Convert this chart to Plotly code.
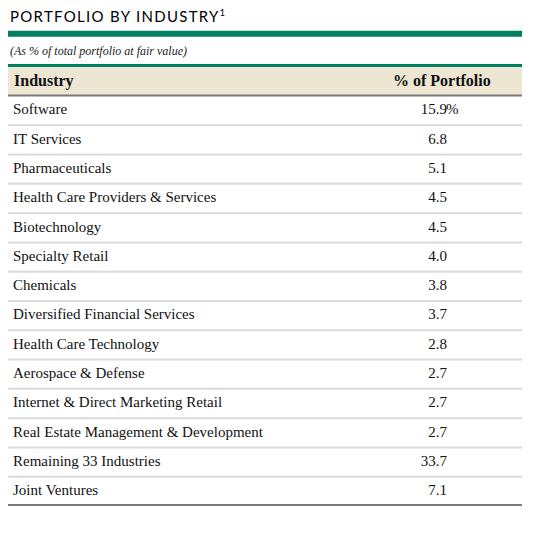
import plotly.graph_objects as go

industries = [
    "Software", "IT Services", "Pharmaceuticals", "Health Care Providers & Services",
    "Biotechnology", "Specialty Retail", "Chemicals", "Diversified Financial Services",
    "Health Care Technology", "Aerospace & Defense", "Internet & Direct Marketing Retail",
    "Real Estate Management & Development", "Remaining 33 Industries", "Joint Ventures",
]
pct_portfolio = [15.9, 6.8, 5.1, 4.5, 4.5, 4.0, 3.8, 3.7, 2.8, 2.7, 2.7, 2.7, 33.7, 7.1]
col_headers = ["Industry", "% of Portfolio"]
title_text = "PORTFOLIO BY INDUSTRY"
subtitle_text = "(As % of total portfolio at fair value)"

OFF = 8  # page body margin
W, H = 544, 534
MT, MB = 96 - OFF, 28 + OFF
PH = H - MT - MB
GREEN = "#00805F"
BEIGE = "#EDE6D3"
SERIF = "Liberation Serif"


def px(p):
    return p - OFF


def ppx(p):
    return max(p - OFF, 0) / W


def py(p):
    return (H - MB - (p - OFF)) / PH


rows = list(range(len(industries)))
val_text = [f"{v:.1f}" for v in pct_portfolio]

fig = go.Figure()
fig.add_trace(go.Scatter(
    x=[px(13)] * len(rows), y=rows, mode="text", text=industries,
    textposition="middle right", cliponaxis=False,
    textfont=dict(family=SERIF, size=15, color="#111111"), hoverinfo="skip"))
fig.add_trace(go.Scatter(
    x=[px(447)] * len(rows), y=rows, mode="text", text=val_text,
    textposition="middle left", cliponaxis=False,
    textfont=dict(family=SERIF, size=15, color="#111111"), hoverinfo="skip"))
fig.add_trace(go.Scatter(
    x=[px(446)], y=rows[:1], mode="text", text=["%"],
    textposition="middle right", cliponaxis=False,
    textfont=dict(family=SERIF, size=15, color="#111111"), hoverinfo="skip"))

X0, X1 = px(8), px(522)
shapes = []
shapes.append(dict(type="rect", xref="x", yref="paper", x0=X0, x1=X1, y0=py(36.7), y1=py(30.7),
                   fillcolor=GREEN, line=dict(width=0), layer="below"))
shapes.append(dict(type="rect", xref="x", yref="paper", x0=X0, x1=X1, y0=py(96), y1=py(64),
                   fillcolor=BEIGE, line=dict(width=0), layer="below"))
shapes.append(dict(type="rect", xref="x", yref="paper", x0=X0, x1=X1, y0=py(67), y1=py(64),
                   fillcolor=GREEN, line=dict(width=0), layer="below"))
shapes.append(dict(type="line", xref="x", yref="paper", x0=X0, x1=X1, y0=py(95.5), y1=py(95.5),
                   line=dict(color="#7a7a7a", width=2)))
for i in rows[:-1]:
    shapes.append(dict(type="line", xref="x", yref="y", x0=X0, x1=X1, y0=i + 0.5, y1=i + 0.5,
                       line=dict(color="#dadada", width=2)))
shapes.append(dict(type="line", xref="x", yref="paper", x0=X0, x1=X1, y0=py(505), y1=py(505),
                   line=dict(color="#7a7a7a", width=2)))

annotations = [
    dict(xref="paper", yref="paper", x=ppx(8), y=py(15.5), xanchor="left", yanchor="middle", showarrow=False,
         text=(f"<span style='letter-spacing:1.3px'>{title_text}</span>"
               "<sup><span style='font-size:9px'>1</span></sup>"),
         font=dict(family="Lato", size=15, color="#000000")),
    dict(xref="paper", yref="paper", x=ppx(6), y=py(51), xanchor="left", yanchor="middle", showarrow=False,
         text=f"<i>{subtitle_text}</i>",
         font=dict(family=SERIF, size=12, color="#222222")),
    dict(xref="paper", yref="paper", x=ppx(12), y=py(81), xanchor="left", yanchor="middle", showarrow=False,
         text=f"<b>{col_headers[0]}</b>", font=dict(family=SERIF, size=16, color="#111111")),
    dict(xref="paper", yref="paper", x=ppx(442), y=py(81), xanchor="center", yanchor="middle", showarrow=False,
         text=f"<b>{col_headers[1]}</b>", font=dict(family=SERIF, size=16, color="#111111")),
]

fig.update_layout(
    width=W, height=H, margin=dict(l=0, r=0, t=MT, b=MB),
    paper_bgcolor="white", plot_bgcolor="white", showlegend=False,
    xaxis=dict(range=[0, W], visible=False, fixedrange=True),
    yaxis=dict(range=[len(rows) - 0.5, -0.5], visible=False, fixedrange=True),
    shapes=shapes, annotations=annotations,
)
fig.write_html("out.html")
